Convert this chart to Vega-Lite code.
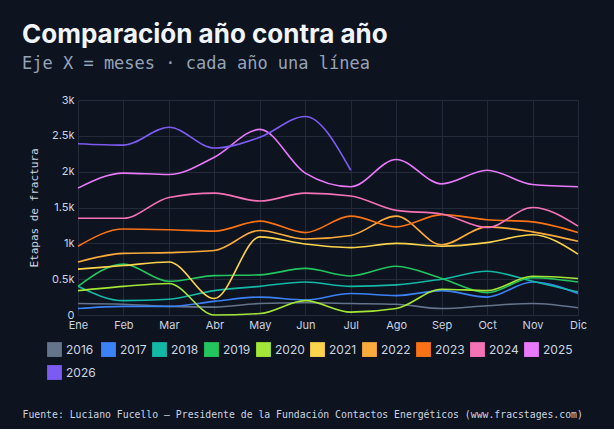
{
  "$schema": "https://vega.github.io/schema/vega-lite/v6.json",
  "width": 500,
  "height": 215,
  "background": "#0e1320",
  "padding": {"left": 22, "top": 22, "right": 30, "bottom": 10},
  "title": {
    "text": "Comparación año contra año",
    "subtitle": "Eje X = meses · cada año una línea",
    "anchor": "start",
    "frame": "group",
    "offset": 22,
    "dx": -56,
    "font": "Inter",
    "fontSize": 26,
    "fontWeight": "bold",
    "color": "#f1f5f9",
    "subtitleFont": "DejaVu Sans Mono",
    "subtitleFontSize": 17,
    "subtitleColor": "#94a3b8",
    "subtitlePadding": 8
  },
  "data": {
    "values": [
      {"anio": "2016", "vals": [160,150,120,110,160,170,160,150,90,130,160,100]},
      {"anio": "2017", "vals": [90,120,120,190,250,210,300,270,340,250,460,300]},
      {"anio": "2018", "vals": [400,200,220,340,400,460,400,420,500,610,470,320]},
      {"anio": "2019", "vals": [400,710,470,550,560,650,545,680,510,310,520,460]},
      {"anio": "2020", "vals": [340,400,440,0,20,200,40,90,360,340,540,510]},
      {"anio": "2021", "vals": [640,690,740,230,1090,990,940,1000,960,1010,1120,850]},
      {"anio": "2022", "vals": [740,860,870,900,1180,1060,1110,1380,980,1230,1160,1030]},
      {"anio": "2023", "vals": [960,1200,1190,1170,1310,1150,1380,1230,1400,1330,1300,1150]},
      {"anio": "2024", "vals": [1350,1350,1640,1700,1590,1700,1660,1460,1410,1220,1500,1240]},
      {"anio": "2025", "vals": [1770,1980,1960,2200,2590,1980,1790,2170,1830,2020,1820,1790]},
      {"anio": "2026", "vals": [2390,2370,2620,2330,2480,2770,2020]}
    ]
  },
  "transform": [
    {"calculate": "['Ene','Feb','Mar','Abr','May','Jun','Jul','Ago','Sep','Oct','Nov','Dic']", "as": "meses"},
    {"flatten": ["vals", "meses"], "as": ["etapas", "mes"]},
    {"filter": "datum.etapas != null"}
  ],
  "mark": {"type": "line", "interpolate": "monotone", "strokeWidth": 1.6},
  "encoding": {
    "x": {
      "field": "mes", "type": "ordinal",
      "sort": ["Ene","Feb","Mar","Abr","May","Jun","Jul","Ago","Sep","Oct","Nov","Dic"],
      "scale": {"type": "point", "padding": 0},
      "axis": {
        "title": "Fuente: Luciano Fucello — Presidente de la Fundación Contactos Energéticos (www.fracstages.com)",
        "titleFont": "DejaVu Sans Mono",
        "titleFontSize": 9.8,
        "titleFontWeight": "normal",
        "titleColor": "#cbd5e1",
        "titleLimit": 700,
        "titleX": -56,
        "titleY": 94,
        "titleAlign": "left",
        "titleAnchor": null,
        "labelAngle": 0, "grid": true
      }
    },
    "y": {
      "field": "etapas", "type": "quantitative",
      "scale": {"domain": [0, 3000]},
      "axis": {"title": "Etapas de fractura", "tickCount": 6, "labelExpr": "datum.value == 0 ? '0' : format(datum.value / 1000, '~') + 'k'", "titleFont": "DejaVu Sans Mono", "titleFontWeight": "normal", "titleFontSize": 11, "titlePadding": 12}
    },
    "color": {
      "field": "anio", "type": "nominal",
      "scale": {"range": ["#64748b","#3b82f6","#14b8a6","#22c55e","#a3e635","#fcd34d","#fbaa3c","#f97316","#f472b6","#e879f9","#7c5cf0"]},
      "legend": {
        "title": null,
        "orient": "none",
        "legendX": -31,
        "legendY": 242,
        "direction": "horizontal",
        "columns": 10,
        "symbolType": "square",
        "symbolSize": 220,
        "symbolStrokeWidth": 0,
        "symbolOpacity": 1,
        "labelColor": "#cbd5e1",
        "labelFontSize": 12,
        "labelOffset": 4,
        "rowPadding": 8,
        "columnPadding": 5,
        "encode": {"symbols": {"update": {"fill": {"scale": "color", "field": "value"}, "cornerRadius": {"value": 3}}}}
      }
    },
    "strokeWidth": {
      "condition": {"test": "datum.anio == '2025' || datum.anio == '2026'", "value": 3},
      "value": 1.6,
      "legend": null
    }
  },
  "config": {
    "font": "Inter",
    "view": {"stroke": null},
    "axis": {
      "domain": false,
      "ticks": false,
      "gridColor": "#232b3b",
      "labelColor": "#cbd5e1",
      "labelFontSize": 11,
      "titleColor": "#cbd5e1",
      "labelPadding": 4
    }
  }
}
